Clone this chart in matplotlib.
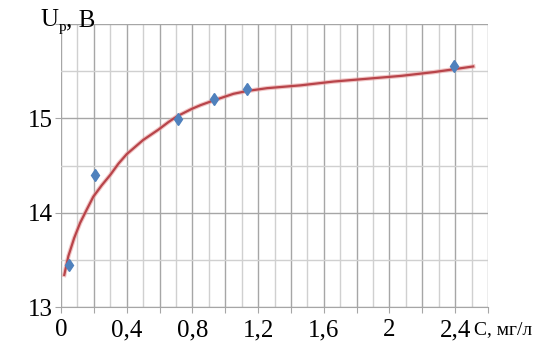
import numpy as np
import matplotlib.pyplot as plt
from matplotlib.ticker import MultipleLocator, FuncFormatter

# measured points
c_pts = [0.05, 0.21, 0.71, 0.93, 1.13, 2.39]
u_pts = [13.445, 14.40, 14.99, 15.21, 15.31, 15.56]

# trend curve
c_line = [0.02, 0.045, 0.08, 0.116, 0.156, 0.197, 0.248, 0.30, 0.35, 0.40,
          0.50, 0.593, 0.654, 0.705, 0.796, 0.85, 0.93, 1.05, 1.134, 1.256,
          1.46, 1.66, 1.866, 2.07, 2.27, 2.39, 2.51]
u_line = [13.34, 13.54, 13.73, 13.89, 14.03, 14.17, 14.29, 14.40, 14.52, 14.62,
          14.77, 14.88, 14.96, 15.02, 15.10, 15.14, 15.19, 15.26, 15.29, 15.32,
          15.35, 15.39, 15.42, 15.45, 15.49, 15.52, 15.55]

plt.rcParams['font.family'] = 'serif'
plt.rcParams['font.serif'] = ['Liberation Serif', 'DejaVu Serif']

fig = plt.figure(figsize=(5.34, 3.52), dpi=100)
ax = fig.add_axes([61 / 534, 1 - 307 / 352, 427 / 534, 283 / 352])

ax.plot(c_line, u_line, color='#e8a0a0', linewidth=3.2, alpha=0.6, zorder=3)
ax.plot(c_line, u_line, color='#b8444a', linewidth=1.6, zorder=4)
ax.plot(c_pts, u_pts, linestyle='none', marker='d', markersize=6,
        color='#4f81bd', markeredgecolor='#4f81bd', zorder=5)

ax.set_xlim(0, 2.6)
ax.set_ylim(13, 16)

ax.xaxis.set_major_locator(MultipleLocator(0.2))
ax.xaxis.set_minor_locator(MultipleLocator(0.1))
ax.yaxis.set_major_locator(MultipleLocator(1))
ax.yaxis.set_minor_locator(MultipleLocator(0.5))


def xfmt(v, pos):
    k = round(v / 0.2)
    if k % 2 or v > 2.45:
        return ''
    s = f'{v:.1f}'.replace('.', ',')
    return '0' if k == 0 else ('2' if k == 10 else s)


def yfmt(v, pos):
    return '' if v > 15.5 else f'{v:.0f}'


ax.xaxis.set_major_formatter(FuncFormatter(xfmt))
ax.yaxis.set_major_formatter(FuncFormatter(yfmt))

ax.grid(which='major', color='#a6a6a6', linewidth=1.0)
ax.grid(which='minor', color='#d0d0d0', linewidth=1.0)
ax.set_axisbelow(True)

for side in ['top', 'right', 'left']:
    ax.spines[side].set_visible(False)
ax.spines['bottom'].set_color('#a6a6a6')

ax.tick_params(axis='x', which='major', direction='out', length=4,
               color='#a6a6a6', labelsize=18, pad=5)
ax.tick_params(axis='x', which='minor', length=0)
ax.tick_params(axis='y', which='major', direction='out', length=4,
               color='#a6a6a6', labelsize=18, pad=2)
ax.tick_params(axis='y', which='minor', length=0)

# axis titles
fig.text(474 / 534, 1 - 330 / 352, 'C, мг/л', fontsize=14, ha='left', va='center')
fig.text(40 / 534, 1 - 20 / 352, 'U', fontsize=18, ha='left', va='center')
fig.text(59 / 534, 1 - 28 / 352, 'р', fontsize=11, ha='left', va='center')
fig.text(66 / 534, 1 - 20 / 352, ', В', fontsize=18, ha='left', va='center')

fig.savefig('out.png', dpi=100)
